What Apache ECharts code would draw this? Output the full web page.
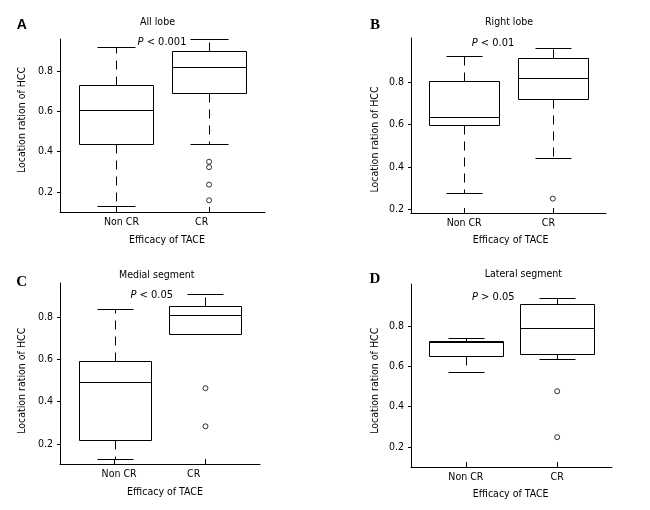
<!DOCTYPE html>
<html>
<head>
<meta charset="utf-8">
<script src="https://cdn.jsdelivr.net/npm/echarts@6.0.0/dist/echarts.min.js"></script>
<style>html,body{margin:0;padding:0;background:#fff}#c{width:650px;height:510px}</style>
</head>
<body>
<div id="c"></div>
<script>
// ---- data ----
const categories = ['Non CR', 'CR'];
const yTicks = [0.2, 0.4, 0.6, 0.8];
// [min, Q1, median, Q3, max] for Non CR and CR
const boxA = [[0.13, 0.44, 0.607, 0.729, 0.922], [0.44, 0.691, 0.82, 0.902, 0.959]];
const boxB = [[0.276, 0.60, 0.638, 0.807, 0.923], [0.442, 0.721, 0.821, 0.914, 0.961]];
const boxC = [[0.129, 0.219, 0.492, 0.59, 0.838], [0.72, 0.72, 0.81, 0.85, 0.91]];
const boxD = [[0.572, 0.65, 0.722, 0.724, 0.739], [0.636, 0.661, 0.79, 0.91, 0.939]];
// outliers: [category index, value]
const outA = [[1, 0.35], [1, 0.323], [1, 0.236], [1, 0.158]];
const outB = [[1, 0.249]];
const outC = [[1, 0.463], [1, 0.283]];
const outD = [[1, 0.476], [1, 0.248]];
const panelTitles = ['All lobe', 'Right lobe', 'Medial segment', 'Lateral segment'];
const pTexts = ['{i|P} < 0.001', '{i|P} < 0.01', '{i|P} < 0.05', '{i|P} > 0.05'];
const letters = ['A', 'B', 'C', 'D'];
const yName = 'Location ration of HCC';
const xName = 'Efficacy of TACE';

const FONT = "'DejaVu Sans Condensed', 'DejaVu Sans', sans-serif";
const FS = 10.5;

// layout / style per panel
const panels = [
  {box: boxA, out: outA, grid: {left: 60, top: 39, width: 205, height: 173}, y: [0.1, 0.96],
   labelAt: [0.06, 0.92],
   title: [157.5, 22.5], p: [162, 42.5], letter: [21.7, 25], yn: [22.7, 120], xn: [167, 240]},
  {box: boxB, out: outB, grid: {left: 411, top: 38, width: 195, height: 175}, y: [0.181, 1.01],
   labelAt: [0, 0.95],
   title: [509, 22.7], p: [493, 42.7], letter: [375, 25], yn: [375, 139.5], xn: [510.7, 240.7]},
  {box: boxC, out: outC, grid: {left: 60, top: 283, width: 200, height: 181}, y: [0.105, 0.96],
   labelAt: [0.05, 0.87],
   title: [156.7, 275], p: [151.7, 295], letter: [21.7, 281.7], yn: [22.7, 380.8], xn: [165, 492.7]},
  {box: boxD, out: outD, grid: {left: 411, top: 284, width: 201, height: 183}, y: [0.1, 1.008],
   labelAt: [0, 1],
   title: [523.3, 274], p: [493.3, 297.3], letter: [375, 279.3], yn: [375, 380.8], xn: [510.7, 494.3]}
];

function px(v) { return Math.round(v) + 0.5; }

function renderBox(params, api) {
  const x = api.value(0);
  const lo = api.value(1), q1 = api.value(2), med = api.value(3), q3 = api.value(4), hi = api.value(5);
  const cx = px(api.coord([x, med])[0]);
  const yLo = px(api.coord([x, lo])[1]);
  const yQ1 = px(api.coord([x, q1])[1]);
  const yMed = px(api.coord([x, med])[1]);
  const yQ3 = px(api.coord([x, q3])[1]);
  const yHi = px(api.coord([x, hi])[1]);
  const half = Math.round(api.size([0.4, 0])[0]);
  const cap = Math.round(api.size([0.2, 0])[0]);
  const lineStyle = {stroke: '#000', lineWidth: 1, fill: null};
  const dash = {stroke: '#000', lineWidth: 1, lineDash: [9, 7]};
  const children = [];
  if (hi > q3) {
    children.push({type: 'line', shape: {x1: cx, y1: yQ3, x2: cx, y2: yHi}, style: dash});
    children.push({type: 'line', shape: {x1: cx - cap, y1: yHi, x2: cx + cap, y2: yHi}, style: lineStyle});
  }
  if (lo < q1) {
    children.push({type: 'line', shape: {x1: cx, y1: yQ1, x2: cx, y2: yLo}, style: dash});
    children.push({type: 'line', shape: {x1: cx - cap, y1: yLo, x2: cx + cap, y2: yLo}, style: lineStyle});
  }
  children.push({type: 'rect', shape: {x: cx - half, y: yQ3, width: 2 * half, height: yQ1 - yQ3},
    style: {stroke: '#000', lineWidth: 1, fill: '#fff'}});
  children.push({type: 'line', shape: {x1: cx - half, y1: yMed, x2: cx + half, y2: yMed}, style: lineStyle});
  return {type: 'group', children: children};
}

const grids = [], xAxes = [], yAxes = [], series = [], graphics = [];
panels.forEach((p, i) => {
  grids.push(p.grid);
  xAxes.push({
    type: 'value', gridIndex: i, min: -0.6, max: 1.6,
    axisLine: {show: true, onZero: false, lineStyle: {color: '#000', width: 1}},
    axisTick: {show: true, inside: true, length: 5, customValues: [0, 1], lineStyle: {color: '#000'}},
    axisLabel: {show: true, customValues: p.labelAt, margin: 5, formatter: v => categories[Math.round(v)],
      fontFamily: FONT, fontSize: FS, color: '#000'},
    splitLine: {show: false}
  });
  yAxes.push({
    type: 'value', gridIndex: i, min: p.y[0], max: p.y[1],
    axisLine: {show: true, onZero: false, lineStyle: {color: '#000', width: 1}},
    axisTick: {show: true, inside: false, length: 3, customValues: yTicks, lineStyle: {color: '#000'}},
    axisLabel: {show: true, customValues: yTicks, margin: 7, formatter: v => v.toFixed(1),
      fontFamily: FONT, fontSize: FS, color: '#000'},
    splitLine: {show: false}
  });
  series.push({
    type: 'custom', xAxisIndex: i, yAxisIndex: i,
    renderItem: renderBox,
    data: p.box.map((b, k) => [k].concat(b)),
    silent: true
  });
  series.push({
    type: 'scatter', xAxisIndex: i, yAxisIndex: i,
    symbol: 'circle', symbolSize: 5,
    itemStyle: {color: '#fff', borderColor: '#000', borderWidth: 1},
    data: p.out, silent: true
  });
  graphics.push({type: 'text', x: p.title[0], y: p.title[1],
    style: {text: panelTitles[i], fontFamily: FONT, fontSize: FS, fill: '#000', textAlign: 'center', textVerticalAlign: 'middle'}});
  graphics.push({type: 'text', x: p.p[0], y: p.p[1],
    style: {text: pTexts[i], fontFamily: FONT, fontSize: 11, fill: '#000', textAlign: 'center', textVerticalAlign: 'middle',
      rich: {i: {fontStyle: 'italic', fontFamily: FONT, fontSize: 11, fill: '#000'}}}});
  graphics.push({type: 'text', x: p.letter[0], y: p.letter[1],
    style: {text: letters[i], fontFamily: i === 0 ? "'Liberation Sans', sans-serif" : "'Liberation Serif', serif",
      fontWeight: 'bold', fontSize: i === 0 ? 14 : 15, fill: '#000', textAlign: 'center', textVerticalAlign: 'middle'}});
  graphics.push({type: 'text', x: p.yn[0], y: p.yn[1], rotation: Math.PI / 2,
    style: {text: yName, fontFamily: FONT, fontSize: FS, fill: '#000', textAlign: 'center', textVerticalAlign: 'middle'}});
  graphics.push({type: 'text', x: p.xn[0], y: p.xn[1],
    style: {text: xName, fontFamily: FONT, fontSize: FS, fill: '#000', textAlign: 'center', textVerticalAlign: 'middle'}});
});

const chart = echarts.init(document.getElementById('c'), null, {renderer: 'canvas'});
chart.setOption({
  backgroundColor: '#fff',
  animation: false,
  grid: grids, xAxis: xAxes, yAxis: yAxes, series: series, graphic: graphics
});
</script>
</body>
</html>
